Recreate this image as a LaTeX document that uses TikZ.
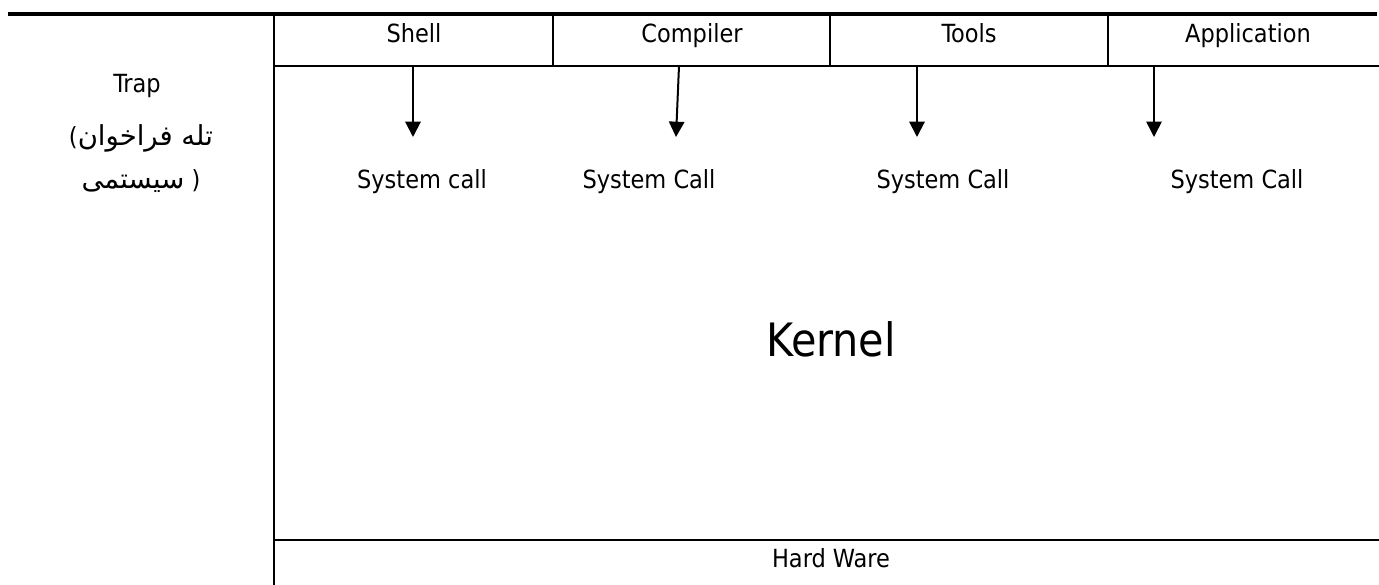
\documentclass[tikz,border=0pt]{standalone}
\usepackage{fontspec}
\setmainfont{DejaVu Sans Condensed}
\newfontfamily\persianfont[Script=Arabic,Scale=1.1]{DejaVu Sans}
\TeXXeTstate=1
\usetikzlibrary{arrows.meta}

\begin{document}
\begin{tikzpicture}[x=0.75pt,y=-0.75pt,
  heavy/.style={line width=3pt},
  rule/.style={line width=1.9pt},
  thin rule/.style={line width=1.5pt},
  callarrow/.style={line width=1.5pt,-{Triangle[length=11.5pt,width=11.5pt]}},
  label/.style={font=\fontsize{18.75pt}{22pt}\selectfont,inner sep=0pt,anchor=base},
  biglabel/.style={font=\fontsize{34.5pt}{40pt}\selectfont,inner sep=0pt,anchor=base}]
  \useasboundingbox (0,0) rectangle (1379,585);

  % frame: top rule, left separator, header row and hardware row
  \draw[heavy] (8,14) -- (1377,14);
  \draw[rule] (274,16) -- (274,585);
  \draw[rule] (274,66) -- (1379,66);
  \draw[rule] (274,540) -- (1379,540);
  \foreach \x in {553,830,1108} \draw[thin rule] (\x,16) -- (\x,66);

  % header cells
  \node[label] (shell) at (414,43) {Shell};
  \node[label] (compiler) at (692,43) {Compiler};
  \node[label] (tools) at (969,43) {Tools};
  \node[label] (app) at (1248,43) {Application};

  % arrow ends
  \coordinate (s1) at (413,66);  \coordinate (t1) at (413,137);
  \coordinate (s2) at (679,66);  \coordinate (t2) at (676,137);
  \coordinate (s3) at (917,66);  \coordinate (t3) at (917,137);
  \coordinate (s4) at (1154,66); \coordinate (t4) at (1154,137);
  \draw[callarrow] (s1) -- (t1);
  \draw[callarrow] (s2) -- (t2);
  \draw[callarrow] (s3) -- (t3);
  \draw[callarrow,line width=1.2pt] (s4) -- (t4);

  % system call labels
  \node[label] (sc1) at (422,188) {System call};
  \node[label] (sc2) at (649,188) {System Call};
  \node[label] (sc3) at (943,188) {System Call};
  \node[label] (sc4) at (1237,188) {System Call};

  % kernel and hardware
  \node[biglabel] (kernel) at (831,356) {Kernel};
  \node[label] (hw) at (831,567) {Hard Ware};

  % trap caption (Persian runs set right to left, brackets kept in their own boxes)
  \node[label] (trap) at (137,93) {Trap};
  \node[label] (trap2) at (141,146)
    {\hbox{(}\hbox{\persianfont\beginR تله فراخوان\endR}};
  \node[label] (trap3) at (141,188)
    {\hbox{\persianfont\beginR سیستمی\endR}\hbox{\ )}};
\end{tikzpicture}
\end{document}
